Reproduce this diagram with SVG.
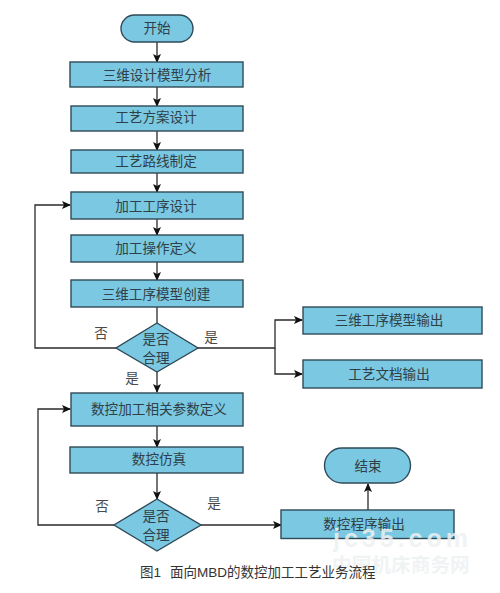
<svg xmlns="http://www.w3.org/2000/svg" width="500" height="593" viewBox="0 0 500 593">
<style>
.n{fill:#7bc8e2;stroke:#2f4a58;stroke-width:1.4}
.t{font-family:"Noto Sans CJK SC","Liberation Serif",serif;font-size:13.6px;fill:#2f4148;text-anchor:middle}
.q{font-family:"Noto Sans CJK SC","Liberation Serif",serif;font-size:13.6px;fill:#4a4a4a;text-anchor:middle}
.l{fill:none;stroke:#2a2a2a;stroke-width:1.3}
.w{fill:#eef1f2;fill-opacity:.85;font-weight:700}
</style>
<defs><marker id="a" markerWidth="9" markerHeight="8" refX="8" refY="4" orient="auto" markerUnits="userSpaceOnUse"><path d="M0 0L9 4L0 8L2 4Z" fill="#111"/></marker></defs>
<rect width="500" height="593" fill="#fff"/>
<g id="connectors">
<path class="l" marker-end="url(#a)" d="M157 42V62"/>
<path class="l" marker-end="url(#a)" d="M157 87V106"/>
<path class="l" marker-end="url(#a)" d="M157 131V150"/>
<path class="l" marker-end="url(#a)" d="M157 173V192"/>
<path class="l" marker-end="url(#a)" d="M157 219V235"/>
<path class="l" marker-end="url(#a)" d="M157 262V280"/>
<path class="l" d="M157 307V323"/>
<path class="l" marker-end="url(#a)" d="M116 348H35V205H70"/>
<path class="l" marker-end="url(#a)" d="M198 348H275V320H302"/>
<path class="l" marker-end="url(#a)" d="M275 348V374H302"/>
<path class="l" marker-end="url(#a)" d="M157 372V392"/>
<path class="l" marker-end="url(#a)" d="M157 426V447"/>
<path class="l" marker-end="url(#a)" d="M157 473V499"/>
<path class="l" marker-end="url(#a)" d="M114 525H38V409H70"/>
<path class="l" marker-end="url(#a)" d="M201 525H281"/>
<path class="l" marker-end="url(#a)" d="M368 510V484"/>
</g>
<g id="start"><rect class="n" x="121" y="15" width="72" height="27" rx="13.5"/><text class="t" x="157" y="33">开始</text></g>
<g id="n1"><rect class="n" x="70" y="62" width="173" height="25"/><text class="t" x="157" y="80">三维设计模型分析</text></g>
<g id="n2"><rect class="n" x="71" y="106" width="172" height="25"/><text class="t" x="156" y="122">工艺方案设计</text></g>
<g id="n3"><rect class="n" x="71" y="150" width="172" height="23"/><text class="t" x="156" y="166">工艺路线制定</text></g>
<g id="n4"><rect class="n" x="71" y="192" width="172" height="27"/><text class="t" x="156" y="211">加工工序设计</text></g>
<g id="n5"><rect class="n" x="71" y="235" width="172" height="27"/><text class="t" x="156" y="253">加工操作定义</text></g>
<g id="n6"><rect class="n" x="71" y="280" width="172" height="27"/><text class="t" x="156" y="299">三维工序模型创建</text></g>
<g id="d1"><polygon class="n" points="157,323 198,348 157,372 116,348"/><text class="t" x="156" y="344">是否</text><text class="t" x="156" y="363">合理</text></g>
<g id="o1"><rect class="n" x="303" y="307" width="179" height="27"/><text class="t" x="389" y="325">三维工序模型输出</text></g>
<g id="o2"><rect class="n" x="303" y="360" width="179" height="28"/><text class="t" x="389" y="379">工艺文档输出</text></g>
<g id="n7"><rect class="n" x="71" y="393" width="172" height="33"/><text class="t" x="159" y="414">数控加工相关参数定义</text></g>
<g id="n8"><rect class="n" x="70" y="447" width="173" height="26"/><text class="t" x="159" y="464">数控仿真</text></g>
<g id="d2"><polygon class="n" points="157,499 201,525 157,551 114,525"/><text class="t" x="156" y="520.500">是否</text><text class="t" x="156" y="539.500">合理</text></g>
<g id="n9"><rect class="n" x="281" y="510" width="173" height="28.500"/><text class="t" x="364" y="529">数控程序输出</text></g>
<g id="end"><rect class="n" x="324.500" y="448" width="86" height="35" rx="17.500"/><text class="t" x="368" y="471">结束</text></g>
<g id="watermark">
<text class="w" x="333" y="547" font-family="'Liberation Sans',sans-serif" font-size="25" letter-spacing="4">jc35.com</text>
<text class="w" x="332" y="572" font-family="'Noto Sans CJK SC',sans-serif" font-size="19.700">中国机床商务网</text>
</g>
<g id="labels">
<text class="q" x="101" y="338">否</text><text class="q" x="211" y="342">是</text><text class="q" x="132" y="383">是</text>
<text class="q" x="102" y="511">否</text><text class="q" x="214" y="508">是</text>
<text x="140" y="577" font-family="'Liberation Sans','Noto Sans CJK SC',sans-serif" font-size="13.500" fill="#333">图1<tspan dx="9">面向MBD的数控加工工艺业务流程</tspan></text>
</g>
</svg>
